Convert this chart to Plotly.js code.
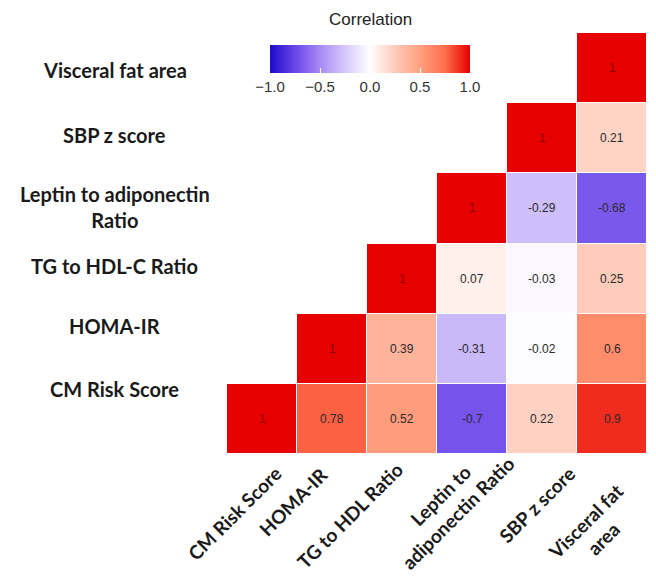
<!DOCTYPE html>
<html>
<head>
<meta charset="utf-8">
<script src="https://cdn.plot.ly/plotly-3.0.1.min.js"></script>
<style>html,body{margin:0;padding:0;background:#fff;}#chart{width:656px;height:577px;}</style>
</head>
<body>
<div id="chart"></div>
<script>
// Column variables (x axis, left to right)
const xLabels = ["CM Risk Score", "HOMA-IR", "TG to HDL Ratio", "Leptin to<br>adiponectin Ratio", "SBP z score", "Visceral fat<br>area"];
// Row variables (y axis, bottom to top)
const yLabels = ["CM Risk Score", "HOMA-IR", "TG to HDL-C Ratio", "Leptin to adiponectin<br>Ratio", "SBP z score", "Visceral fat area"];

// Correlation rows (bottom to top); null = hidden upper triangle
const rowCM       = [1, 0.78, 0.52, -0.7, 0.22, 0.9];
const rowHOMA     = [null, 1, 0.39, -0.31, -0.02, 0.6];
const rowTG       = [null, null, 1, 0.07, -0.03, 0.25];
const rowLeptin   = [null, null, null, 1, -0.29, -0.68];
const rowSBP      = [null, null, null, null, 1, 0.21];
const rowVisceral = [null, null, null, null, null, 1];

const z = [rowCM, rowHOMA, rowTG, rowLeptin, rowSBP, rowVisceral];

const colorscale = [
  [0.0, "#1c0cc8"],
  [0.125, "#6a45e8"],
  [0.25, "#a88af5"],
  [0.375, "#d5c8fa"],
  [0.5, "#ffffff"],
  [0.625, "#ffcbbb"],
  [0.75, "#ffa080"],
  [0.875, "#ff6e4c"],
  [1.0, "#e60000"]
];

const trace = {
  type: "heatmap",
  x: xLabels,
  y: yLabels,
  z: z,
  zmin: -1, zmax: 1,
  colorscale: colorscale,
  xgap: 1, ygap: 1,
  hoverongaps: false,
  colorbar: {
    orientation: "h",
    lenmode: "pixels", len: 200,
    thickness: 28,
    x: 0.3405, xanchor: "center",
    yref: "container", y: 1 - 45 / 577, yanchor: "top", ypad: 0, xpad: 0,
    outlinewidth: 0,
    tickvals: [-1, -0.5, 0, 0.5, 1],
    ticktext: ["\u22121.0", "\u22120.5", "0.0", "0.5", "1.0"],
    ticks: "inside", ticklen: 5, tickcolor: "#ffffff", tickwidth: 1,
    tickfont: {family: "Liberation Sans, Arial, sans-serif", size: 15, color: "#333"}
  }
};

const annotations = [];
// Legend title
annotations.push({
  x: 0.3405, xref: "paper", y: 1 + 13 / 421, yref: "paper",
  text: "Correlation", showarrow: false, xanchor: "center", yanchor: "middle",
  font: {family: "Liberation Sans, Arial, sans-serif", size: 17, color: "#222"}
});
// Cell value annotations
for (let r = 0; r < z.length; r++) {
  for (let c = 0; c < z[r].length; c++) {
    const v = z[r][c];
    if (v === null) continue;
    annotations.push({
      x: xLabels[c], y: yLabels[r], xref: "x", yref: "y",
      text: String(v), showarrow: false,
      font: {family: "Liberation Sans, Arial, sans-serif", size: 12, color: v === 1 ? "#8a0000" : "#2a2a2a"}
    });
  }
}
// Row labels (centred block at left)
const yLabelShift = [30, 23, 13, 1, 3, -2];
for (let r = 0; r < yLabels.length; r++) {
  annotations.push({
    x: -0.267, xref: "paper", y: yLabels[r], yref: "y",
    yshift: yLabelShift[r],
    text: "<b>" + yLabels[r] + "</b>", showarrow: false, align: "center", xanchor: "center",
    font: {family: "Lato, Open Sans, sans-serif", size: 20, color: "#1a1a1a"}
  });
}
// Column labels (rotated, centred lines)
const xLabelShiftX = [26, 3, 8, 50, 40, 36];
const xLabelShiftY = [-5, -6, -1, 22, -5, -22];
for (let c = 0; c < xLabels.length; c++) {
  annotations.push({
    x: xLabels[c], xref: "x", y: 0, yref: "paper",
    xshift: xLabelShiftX[c], yshift: xLabelShiftY[c],
    text: "<b>" + xLabels[c] + "</b>", showarrow: false, align: "center",
    xanchor: "right", yanchor: "top", textangle: -45,
    font: {family: "Lato, Open Sans, sans-serif", size: 19, color: "#1a1a1a"}
  });
}

const layout = {
  width: 656, height: 577,
  margin: {l: 227, r: 9, t: 33, b: 123, autoexpand: false},
  paper_bgcolor: "#ffffff", plot_bgcolor: "#ffffff",
  xaxis: {
    type: "category", showgrid: false, zeroline: false, showline: false, ticks: "",
    showticklabels: false, automargin: false,
    autorange: false, range: [-0.5, xLabels.length - 0.5]
  },
  yaxis: {
    type: "category", showgrid: false, zeroline: false, showline: false, ticks: "",
    showticklabels: false, automargin: false,
    autorange: false, range: [-0.5, yLabels.length - 0.5]
  },
  annotations: annotations,
  showlegend: false
};

Plotly.newPlot("chart", [trace], layout, {displayModeBar: false, staticPlot: true});
</script>
</body>
</html>
